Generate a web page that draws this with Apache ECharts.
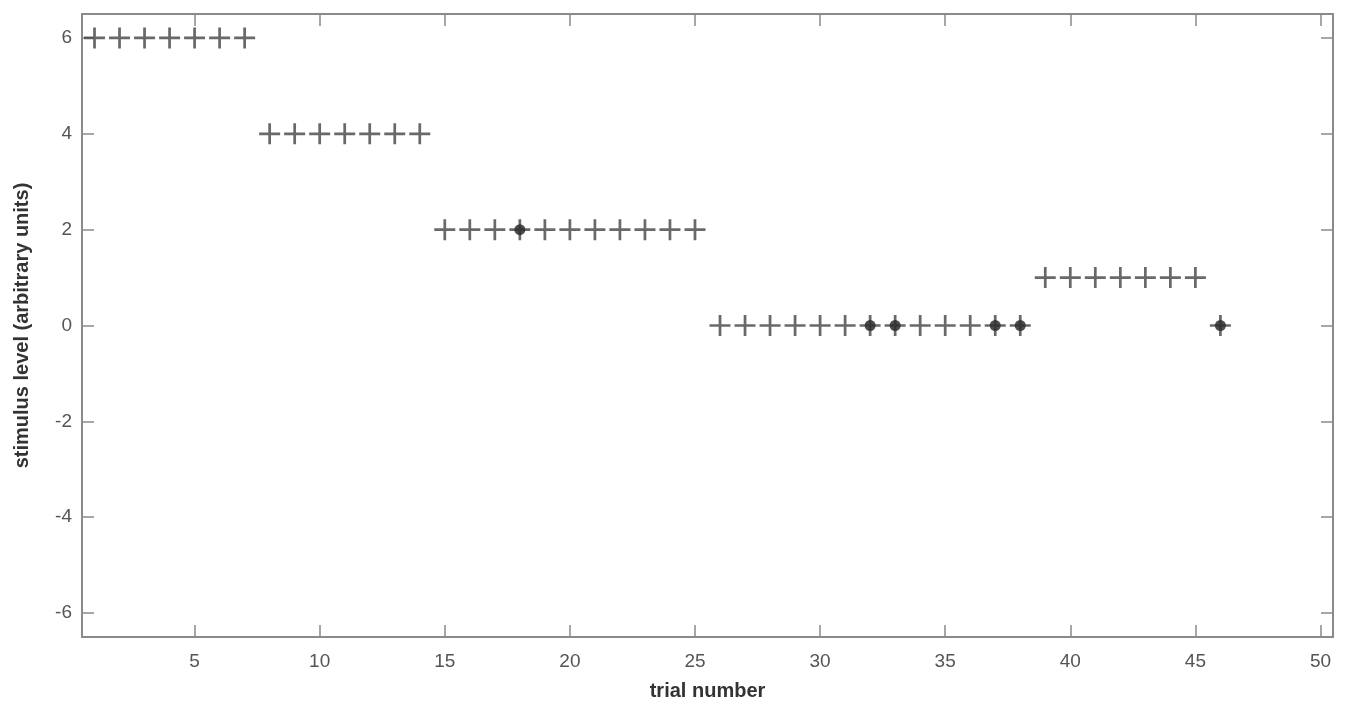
<!DOCTYPE html>
<html>
<head>
<meta charset="utf-8">
<script src="https://cdn.jsdelivr.net/npm/echarts@6/dist/echarts.min.js"></script>
<style>
  html, body { margin: 0; padding: 0; background: #fff; }
  #chart { width: 1346px; height: 708px; }
</style>
</head>
<body>
<div id="chart"></div>
<script>
// stimulus level per trial (trial numbers start at 1)
const trials = [
  1, 2, 3, 4, 5, 6, 7,
  8, 9, 10, 11, 12, 13, 14,
  15, 16, 17, 18, 19, 20, 21, 22, 23, 24, 25,
  26, 27, 28, 29, 30, 31, 32, 33, 34, 35, 36, 37, 38,
  39, 40, 41, 42, 43, 44, 45,
  46
];
const levels = [
  6, 6, 6, 6, 6, 6, 6,
  4, 4, 4, 4, 4, 4, 4,
  2, 2, 2, 2, 2, 2, 2, 2, 2, 2, 2,
  0, 0, 0, 0, 0, 0, 0, 0, 0, 0, 0, 0, 0,
  1, 1, 1, 1, 1, 1, 1,
  0
];
// trials drawn with an extra dot
const dotTrials = [18, 32, 33, 37, 38, 46];
const dotLevels = [2, 0, 0, 0, 0, 0];

const xTicks = [5, 10, 15, 20, 25, 30, 35, 40, 45, 50];
const yTicks = [-6, -4, -2, 0, 2, 4, 6];

const axisColor = '#8a8a8a';
const labelColor = '#555';
const plusPath = 'path://M-1.3,-10 H1.3 V-1.3 H10 V1.3 H1.3 V10 H-1.3 V1.3 H-10 V-1.3 H-1.3 Z';

const chart = echarts.init(document.getElementById('chart'));

const xBase = {
  type: 'value',
  min: 0.5,
  max: 50.5,
  axisLine: { show: true, onZero: false, lineStyle: { color: axisColor, width: 2 } },
  axisTick: { show: true, inside: true, length: 12, customValues: xTicks, lineStyle: { color: axisColor, width: 1.5 } },
  splitLine: { show: false }
};
const yBase = {
  type: 'value',
  min: -6.5,
  max: 6.5,
  axisLine: { show: true, onZero: false, lineStyle: { color: axisColor, width: 2 } },
  axisTick: { show: true, inside: true, length: 12, customValues: yTicks, lineStyle: { color: axisColor, width: 1.5 } },
  splitLine: { show: false }
};

chart.setOption({
  animation: false,
  backgroundColor: '#fff',
  grid: { left: 82, right: 13, top: 14, bottom: 71 },
  xAxis: [
    Object.assign({}, xBase, {
      position: 'bottom',
      name: 'trial number',
      nameLocation: 'middle',
      nameGap: 44,
      nameTextStyle: { color: '#333', fontSize: 20, fontWeight: 'bold', fontFamily: 'Liberation Sans' },
      axisLabel: { show: true, customValues: xTicks, color: labelColor, fontSize: 19, margin: 15, fontFamily: 'Liberation Sans' }
    }),
    Object.assign({}, xBase, { position: 'top', axisLabel: { show: false } })
  ],
  yAxis: [
    Object.assign({}, yBase, {
      position: 'left',
      name: 'stimulus level (arbitrary units)',
      nameLocation: 'middle',
      nameGap: 50,
      nameTextStyle: { color: '#333', fontSize: 20, fontWeight: 'bold', fontFamily: 'Liberation Sans' },
      axisLabel: { show: true, customValues: yTicks, color: labelColor, fontSize: 19, margin: 10, fontFamily: 'Liberation Sans' }
    }),
    Object.assign({}, yBase, { position: 'right', axisLabel: { show: false } })
  ],
  series: [
    {
      type: 'scatter',
      data: trials.map((t, i) => [t, levels[i]]),
      symbol: plusPath,
      symbolSize: 21,
      itemStyle: { color: '#444' }
    },
    {
      type: 'scatter',
      data: dotTrials.map((t, i) => [t, dotLevels[i]]),
      symbol: 'circle',
      symbolSize: 11,
      itemStyle: { color: '#2e2e2e', opacity: 0.85 }
    }
  ]
});
</script>
</body>
</html>
